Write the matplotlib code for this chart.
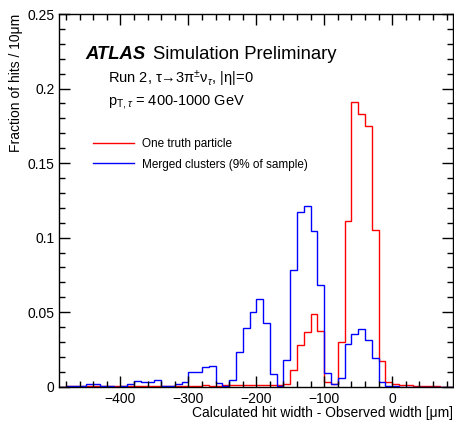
import numpy as np
import matplotlib
matplotlib.use("Agg")
import matplotlib.pyplot as plt
from matplotlib.lines import Line2D
from matplotlib.ticker import MultipleLocator

plt.rcParams['font.family'] = ['Liberation Sans', 'DejaVu Sans']
plt.rcParams['mathtext.fontset'] = 'custom'
plt.rcParams['mathtext.rm'] = 'Liberation Sans'
plt.rcParams['mathtext.it'] = 'Liberation Sans:italic'
plt.rcParams['mathtext.bf'] = 'Liberation Sans:bold'

# ============================
# data: 10 um bins from -490 to 90
# ============================
bin_edges = np.arange(-490, 100, 10)

one_truth = [
    0.0000, 0.0002, 0.0003, 0.0003, 0.0004, 0.0003, 0.0003, 0.0002, 0.0002, 0.0003,   # -490 .. -400
    0.0003, 0.0004, 0.0004, 0.0004, 0.0004, 0.0004, 0.0004, 0.0005, 0.0005, 0.0007,   # -390 .. -300
    0.0007, 0.0008, 0.0007, 0.0007, 0.0008, 0.0009, 0.0011, 0.0012, 0.0013, 0.0013,   # -290 .. -200
    0.0013, 0.0012, 0.0008, 0.0018, 0.0114, 0.0277, 0.0365, 0.0486, 0.0376, 0.0030,   # -190 .. -100
    0.0015, 0.0302, 0.1109, 0.1911, 0.1826, 0.1752, 0.1053, 0.0170, 0.0034, 0.0017,   # -90 .. 0
    0.0011, 0.0008, 0.0004, 0.0003, 0.0002, 0.0002, 0.0001, 0.0001,                   # 10 .. 80
]

merged = [
    0.0000, 0.0002, 0.0007, 0.0007, 0.0016, 0.0016, 0.0007, 0.0002, 0.0001, 0.0002,   # -490 .. -400
    0.0016, 0.0041, 0.0030, 0.0034, 0.0046, 0.0005, 0.0002, 0.0018, 0.0034, 0.0100,   # -390 .. -300
    0.0097, 0.0135, 0.0138, 0.0027, 0.0005, 0.0045, 0.0232, 0.0392, 0.0504, 0.0587,   # -290 .. -200
    0.0430, 0.0083, 0.0005, 0.0177, 0.0780, 0.1170, 0.1214, 0.1044, 0.0685, 0.0095,   # -190 .. -100
    0.0016, 0.0056, 0.0287, 0.0352, 0.0388, 0.0310, 0.0195, 0.0034, 0.0005, 0.0003,   # -90 .. 0
    0.0001, 0.0001, 0.0000, 0.0000, 0.0000, 0.0000, 0.0000, 0.0000,                   # 10 .. 80
]

labels = ["One truth particle", "Merged clusters (9% of sample)"]

# ============================
# figure
# ============================
fig = plt.figure(figsize=(4.54, 4.21), dpi=100)
ax = fig.add_axes([0.1306, 0.0815, 0.8679, 0.8852])

ax.stairs(one_truth, bin_edges, color='red', lw=1.0, baseline=0)
ax.stairs(merged, bin_edges, color='blue', lw=1.0, baseline=0)

ax.set_xlim(-490, 90)
ax.set_ylim(0, 0.25)
ax.xaxis.set_major_locator(MultipleLocator(100))
ax.xaxis.set_minor_locator(MultipleLocator(20))
ax.yaxis.set_major_locator(MultipleLocator(0.05))
ax.yaxis.set_minor_locator(MultipleLocator(0.01))
ax.set_yticks([0, 0.05, 0.1, 0.15, 0.2, 0.25])
ax.set_yticklabels(["0", "0.05", "0.1", "0.15", "0.2", "0.25"])
ax.tick_params(which='both', direction='in', top=True, right=True, labelsize=10, width=1.0)
ax.tick_params(which='major', length=8)
ax.tick_params(which='minor', length=4)
for s in ax.spines.values():
    s.set_linewidth(1.0)

ax.set_xlabel("Calculated hit width - Observed width [μm]", fontsize=10, loc='right', labelpad=0)
ax.set_ylabel("Fraction of hits / 10μm", fontsize=10, loc='top', labelpad=3)

# ATLAS label
ax.text(0.065, 0.878, "ATLAS", transform=ax.transAxes, fontsize=13.3,
        fontweight='bold', fontstyle='italic', va='baseline')
ax.text(0.237, 0.878, "Simulation Preliminary", transform=ax.transAxes,
        fontsize=13.3, va='baseline')
ax.text(0.124, 0.814, r"Run 2, τ→3π$^{\pm}$ν$_{\tau}$, |η|=0", transform=ax.transAxes,
        fontsize=10.5, va='baseline')
ax.text(0.124, 0.756, r"p$_{\mathrm{T},\tau}$ = 400-1000 GeV", transform=ax.transAxes,
        fontsize=10.5, va='baseline')

handles = [Line2D([], [], color='red', lw=1.0), Line2D([], [], color='blue', lw=1.0)]
ax.legend(handles, labels, loc='upper left', bbox_to_anchor=(0.085, 0.668),
          frameon=False, fontsize=8.5, handlelength=3.5, handletextpad=0.7,
          labelspacing=0.75, borderpad=0, borderaxespad=0)

fig.savefig("out.png", dpi=100)
